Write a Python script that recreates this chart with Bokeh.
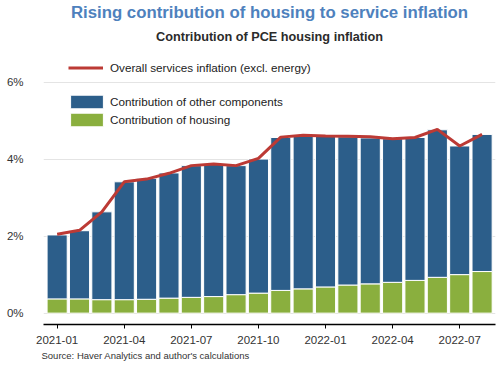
from bokeh.plotting import figure
from bokeh.models import (ColumnDataSource, Range1d, FixedTicker, Legend, LegendItem, Title)
from bokeh.embed import file_html
from bokeh.resources import INLINE

months = ["2021-01", "2021-02", "2021-03", "2021-04", "2021-05", "2021-06", "2021-07",
          "2021-08", "2021-09", "2021-10", "2021-11", "2021-12", "2022-01", "2022-02",
          "2022-03", "2022-04", "2022-05", "2022-06", "2022-07", "2022-08"]
housing = [0.37, 0.37, 0.35, 0.35, 0.36, 0.39, 0.41, 0.43, 0.48, 0.52,
           0.59, 0.63, 0.68, 0.73, 0.76, 0.80, 0.85, 0.93, 1.00, 1.08]
other = [1.66, 1.77, 2.28, 3.06, 3.14, 3.25, 3.42, 3.44, 3.35, 3.48,
         3.97, 3.99, 3.92, 3.85, 3.79, 3.73, 3.71, 3.83, 3.34, 3.56]
services = [2.05, 2.15, 2.63, 3.41, 3.48, 3.63, 3.83, 3.87, 3.83, 4.02,
            4.57, 4.62, 4.60, 4.59, 4.58, 4.53, 4.56, 4.77, 4.34, 4.64]
y_ticks = [0, 2, 4, 6]
x_tick_idx = [0, 3, 6, 9, 12, 15, 18]

FONT = "Liberation Sans"
BLUE = "#2C5E8A"
GREEN = "#8AAF3E"
RED = "#BC3A35"

src = ColumnDataSource(dict(x=list(range(len(months))), month=months,
                            housing=housing, other=other, services=services))

p = figure(width=500, height=365, output_backend="svg", toolbar_location=None,
           x_range=Range1d(-0.61, 19.6), y_range=Range1d(-0.295, 6.845),
           min_border_left=43, min_border_right=5, min_border_top=0, min_border_bottom=0)
p.title = None
p.outline_line_color = None
p.background_fill_color = "white"

bars = p.vbar_stack(["housing", "other"], x="x", width=0.9, color=[GREEN, BLUE],
                    line_color="white", line_width=1, source=src)
line = p.line(x="x", y="services", source=src, line_color=RED, line_width=3)

# axes
p.xgrid.grid_line_color = None
p.ygrid.ticker = FixedTicker(ticks=y_ticks)
p.ygrid.grid_line_color = "#e4e4e4"
p.ygrid.grid_line_width = 1

p.yaxis.ticker = FixedTicker(ticks=y_ticks)
p.yaxis.major_label_overrides = {t: f"{t}%" for t in y_ticks}
p.yaxis.axis_line_color = None
p.yaxis.major_tick_line_color = None
p.yaxis.minor_tick_line_color = None
p.yaxis.major_label_standoff = 14
p.yaxis.major_label_text_font = FONT
p.yaxis.major_label_text_font_size = "11.5px"
p.yaxis.major_label_text_color = "#333333"

p.xaxis.ticker = FixedTicker(ticks=x_tick_idx)
p.xaxis.major_label_overrides = {i: months[i] for i in x_tick_idx}
p.xaxis.axis_line_color = "black"
p.xaxis.axis_line_width = 1.5
p.xaxis.major_tick_line_color = "black"
p.xaxis.major_tick_out = 4
p.xaxis.major_tick_in = 0
p.xaxis.minor_tick_line_color = None
p.xaxis.major_label_standoff = 7
p.xaxis.major_label_text_font = FONT
p.xaxis.major_label_text_font_size = "11.5px"
p.xaxis.major_label_text_color = "#333333"

# legends
leg1 = Legend(items=[LegendItem(label="Overall services inflation (excl. energy)", renderers=[line])],
              location=(25, 248), padding=0, margin=0, border_line_alpha=0,
              background_fill_alpha=0, glyph_width=35, glyph_height=17, label_height=17,
              label_standoff=7, label_text_font=FONT, label_text_font_size="11.7px",
              label_text_color="#222222")
leg2 = Legend(items=[LegendItem(label="Contribution of other components", renderers=[bars[1]]),
                     LegendItem(label="Contribution of housing", renderers=[bars[0]])],
              location=(23, 196), padding=0, margin=0, border_line_alpha=0,
              background_fill_alpha=0, glyph_width=41, glyph_height=17, label_height=17,
              spacing=1, label_standoff=3, label_text_font=FONT, label_text_font_size="11.7px",
              label_text_color="#222222")
p.add_layout(leg1)
p.add_layout(leg2)

# titles
sub = Title(text="Contribution of PCE housing inflation", align="center",
            text_font=FONT, text_font_size="12.7px", text_font_style="bold",
            text_color="#2b2b2b", standoff=12)
main = Title(text="Rising contribution of housing to service inflation", align="center",
             text_font=FONT, text_font_size="16.8px", text_font_style="bold",
             text_color="#4E81BD", standoff=0)
p.add_layout(sub, "above")
p.add_layout(main, "above")

source_note = Title(text="Source: Haver Analytics and author's calculations", align="left",
                    text_font=FONT, text_font_size="9.5px", text_font_style="normal",
                    text_color="#333333", offset=-2, standoff=6, vertical_align="top")
p.add_layout(source_note, "below")

open("out.html", "w").write(file_html(p, INLINE))
